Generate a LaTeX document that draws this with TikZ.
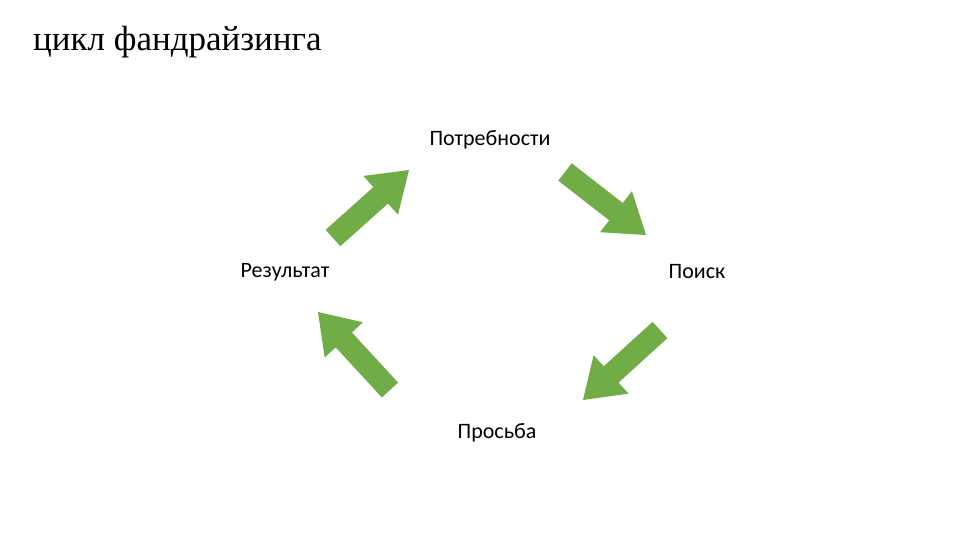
\documentclass[tikz,border=0pt]{standalone}
\usepackage{fontspec}
\setmainfont{Liberation Serif}
\newfontfamily\lab{Carlito}
\usetikzlibrary{calc}
\definecolor{grn}{HTML}{70AD47}
\newcommand{\blockarrow}[2]{%
 \coordinate (h) at ($(#2)!38pt!(#1)$);
 \fill[grn] ($(#1)!11pt!90:(#2)$) -- ($(h)!11pt!-90:(#1)$) -- ($(h)!26pt!-90:(#1)$) -- (#2) -- ($(h)!26pt!90:(#1)$) -- ($(h)!11pt!90:(#1)$) -- ($(#1)!11pt!-90:(#2)$) -- cycle;}
\begin{document}
\begin{tikzpicture}[x=1pt,y=-1pt,lbl/.style={font=\lab\fontsize{22}{26}\selectfont,inner sep=0pt}]
\useasboundingbox (0,0) rectangle (960,540);
\node[anchor=west,inner sep=0pt,font=\fontsize{35}{40}\selectfont] (title) at (33,42) {цикл фандрайзинга};
\node[lbl] (n1) at (490,140) {Потребности};
\node[lbl] (n2) at (697,272) {Поиск};
\node[lbl] (n3) at (497,433) {Просьба};
\node[lbl] (n4) at (285,272) {Результат};
\coordinate (a1) at (333,238); \coordinate (b1) at (409,170);
\coordinate (a2) at (565,172); \coordinate (b2) at (646,235);
\coordinate (a3) at (660,330); \coordinate (b3) at (583,400);
\coordinate (a4) at (390,390); \coordinate (b4) at (318,312);
\blockarrow{a1}{b1}
\blockarrow{a2}{b2}
\blockarrow{a3}{b3}
\blockarrow{a4}{b4}
\end{tikzpicture}
\end{document}
